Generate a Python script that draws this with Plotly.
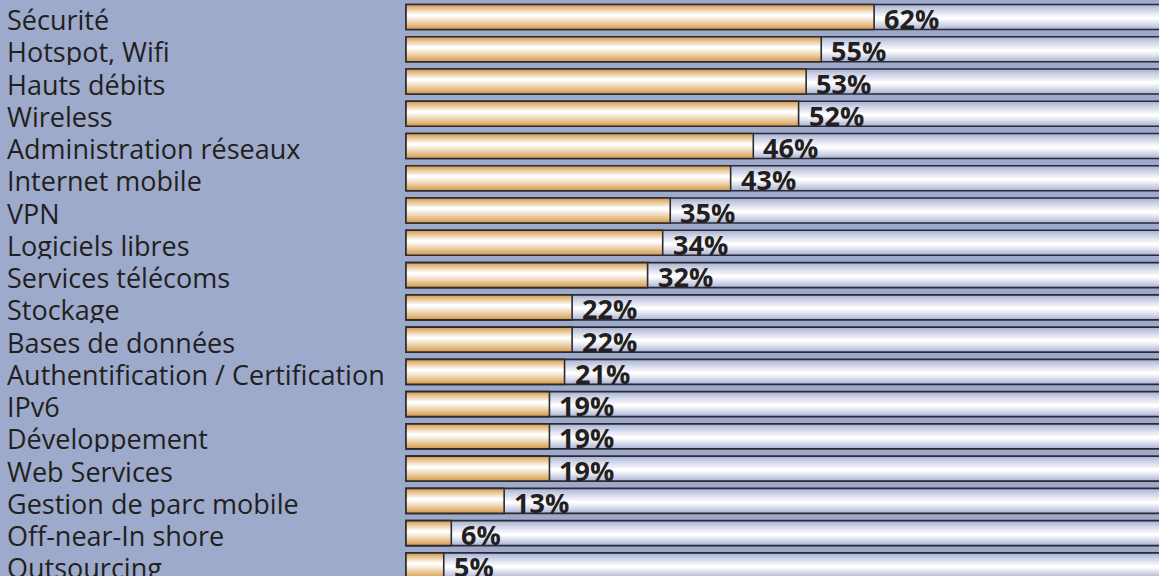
import plotly.graph_objects as go

categories = ["Sécurité", "Hotspot, Wifi", "Hauts débits", "Wireless",
              "Administration réseaux", "Internet mobile", "VPN", "Logiciels libres",
              "Services télécoms", "Stockage", "Bases de données",
              "Authentification / Certification", "IPv6", "Développement",
              "Web Services", "Gestion de parc mobile", "Off-near-In shore", "Outsourcing"]
values = [62, 55, 53, 52, 46, 43, 35, 34, 32, 22, 22, 21, 19, 19, 19, 13, 6, 5]
value_labels = [f"{v}%" for v in values]
track_values = [100] * len(values)

rows = list(range(len(categories)))

BG = "#9DAACB"
BAR_W = 0.775
N_LAYERS = 13


def hex2rgb(h):
    h = h.lstrip("#")
    return tuple(int(h[i:i + 2], 16) for i in (0, 2, 4))


def lerp(c1, c2, t):
    a, b = hex2rgb(c1), hex2rgb(c2)
    return "rgb(%d,%d,%d)" % tuple(round(a[i] + (b[i] - a[i]) * t) for i in range(3))


fig = go.Figure()


def gradient_bars(xvals, edge, center, shift):
    for k in range(N_LAYERS):
        t = k / (N_LAYERS - 1)
        w = BAR_W * (1 - k / N_LAYERS)
        fig.add_trace(go.Bar(
            x=xvals, y=rows, orientation="h", width=w,
            offset=-w / 2 - shift * t,
            marker=dict(color=lerp(edge, center, t ** 0.9), line=dict(width=0)),
            hoverinfo="skip", showlegend=False,
        ))


def outline(xvals):
    fig.add_trace(go.Bar(
        x=xvals, y=rows, orientation="h", width=BAR_W, offset=-BAR_W / 2,
        marker=dict(color="rgba(0,0,0,0)", line=dict(color="#2b2b33", width=1.6)),
        hoverinfo="skip", showlegend=False,
    ))


# tracks (100%)
gradient_bars(track_values, "#A9B2D4", "#FFFFFF", -0.04)
outline(track_values)
# value bars
gradient_bars(values, "#D79A48", "#FFFFFF", 0.05)
outline(values)

annotations = []
for i, (c, v, lab) in enumerate(zip(categories, values, value_labels)):
    annotations.append(dict(
        x=0, xref="paper", y=i, yref="y", text=c, showarrow=False,
        xanchor="left", yanchor="middle", xshift=5, yshift=-2,
        height=28, valign="middle",
        font=dict(family="Open Sans", size=27, color="#231F20"),
    ))
    annotations.append(dict(
        x=v, xref="x", y=i, yref="y", text=f"<b>{lab}</b>", showarrow=False,
        xanchor="left", yanchor="middle", xshift=8, yshift=-1,
        height=28, valign="middle",
        font=dict(family="Open Sans", size=27, color="#231F20"),
    ))

px_per_unit = 7.55
zero_px = 406
W, H = 1159, 576
pitch = 32.26
first_center = 17

fig.update_layout(
    width=W, height=H,
    margin=dict(l=0, r=0, t=0, b=0),
    paper_bgcolor=BG, plot_bgcolor=BG,
    barmode="overlay",
    showlegend=False,
    xaxis=dict(visible=False, range=[-zero_px / px_per_unit, (W - zero_px) / px_per_unit], fixedrange=True),
    yaxis=dict(visible=False, range=[(H - first_center) / pitch, -first_center / pitch], fixedrange=True),
    annotations=annotations,
    hovermode=False,
)

fig.write_html(
    "out.html",
    config={"displayModeBar": False},
    post_script="document.body.style.margin='0';document.body.style.padding='0';"
                "document.body.style.overflow='hidden';document.body.style.background='" + BG + "';",
)
